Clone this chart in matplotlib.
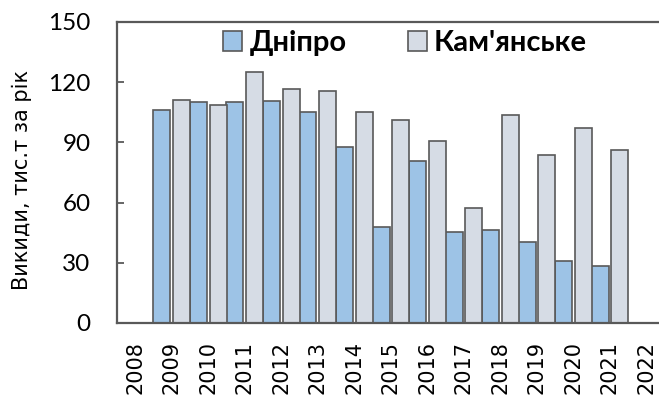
import matplotlib
matplotlib.use("Agg")
import matplotlib.pyplot as plt
import numpy as np

YEARS = list(range(2008, 2023))
BAR_YEARS = list(range(2009, 2022))
DNIPRO = [106, 110, 110, 110.5, 105, 87.5, 48, 80.5, 45.5, 46.5, 40.5, 31, 28.5]
KAMIANSKE = [111, 108.5, 125, 116.5, 115.5, 105, 101, 90.5, 57.5, 103.5, 83.5, 97, 86]
SERIES = ("Дніпро", "Кам'янське")
COLORS = ("#9dc3e6", "#d6dce5")
EDGE = "#595959"

plt.rcParams["font.family"] = ["Lato", "DejaVu Sans"]

fig = plt.figure(figsize=(6.59, 3.99), dpi=100)
ax = fig.add_axes([0.1775, 0.1905, 0.831, 0.7544])

x = np.array([YEARS.index(y) for y in BAR_YEARS], dtype=float)
w = 0.47
ax.bar(x - 0.27, DNIPRO, w, color=COLORS[0], edgecolor=EDGE, lw=1.2, label=SERIES[0])
ax.bar(x + 0.27, KAMIANSKE, w, color=COLORS[1], edgecolor=EDGE, lw=1.2, label=SERIES[1])

ax.set_xlim(-0.5, 14.5)
ax.set_ylim(0, 150)
ax.set_yticks(np.arange(0, 151, 30))
ax.tick_params(axis="y", direction="in", length=5, width=1.3, color=EDGE,
               labelsize=17.5, pad=19)
ax.set_xticks(np.arange(len(YEARS)))
ax.set_xticklabels([str(y) for y in YEARS], rotation=90, fontsize=15,
                   family="DejaVu Sans")
ax.tick_params(axis="x", length=0, pad=13)

for side in ("left", "bottom", "top", "right"):
    ax.spines[side].set_color(EDGE)
    ax.spines[side].set_linewidth(1.6)

ax.set_ylabel("Викиди, тис.т за рік", fontsize=15, family="DejaVu Sans")
ax.yaxis.set_label_coords(-0.155, 0.475)

leg = ax.legend(ncol=2, loc="center", bbox_to_anchor=(0.526, 0.93), frameon=False,
                prop={"weight": "bold", "size": 21}, handlelength=0.65,
                handleheight=0.65, handletextpad=0.25, columnspacing=2.1)

fig.savefig("out.png", dpi=100)
